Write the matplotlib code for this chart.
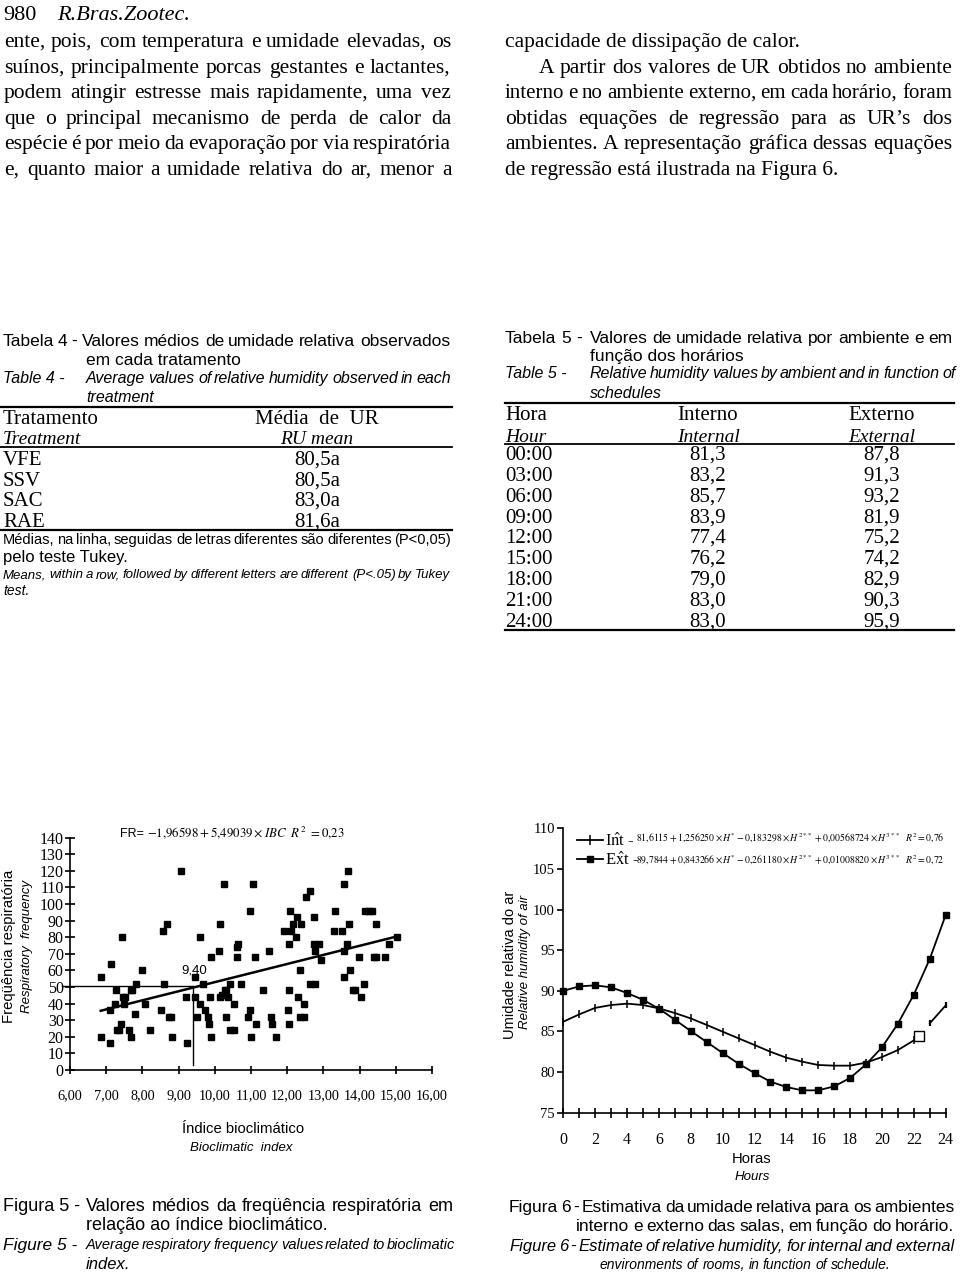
import numpy as np
import matplotlib
matplotlib.use("Agg")
import matplotlib.pyplot as plt
from matplotlib import font_manager
from matplotlib.lines import Line2D

W, H = 960, 1274

# ---- Figura 5: respiratory frequency vs bioclimatic index ----
ibc = [6.86, 6.86, 7.11, 7.11, 7.13, 7.28, 7.25, 7.31, 7.36, 7.40, 7.43, 7.46, 7.50, 7.52,
       7.62, 7.68, 7.68, 7.72, 7.80, 7.83, 8.00, 8.06, 8.22, 8.52, 8.58, 8.61, 8.69, 8.73,
       8.79, 8.81, 9.07, 9.20, 9.23, 9.44, 9.46, 9.50, 9.58, 9.59, 9.67, 9.72, 9.81, 9.83,
       9.87, 9.89, 9.90, 10.12, 10.13, 10.15, 10.19, 10.25, 10.27, 10.31, 10.36, 10.30, 10.41,
       10.42, 10.52, 10.54, 10.60, 10.63, 10.61, 10.73, 10.96, 10.91, 10.98, 11.00, 11.06,
       11.12, 11.14, 11.34, 11.49, 11.55, 11.58, 11.69, 11.90, 12.01, 12.04, 12.05, 12.07,
       12.06, 12.11, 12.16, 12.24, 12.27, 12.29, 12.34, 12.39, 12.35, 12.46, 12.47, 12.53,
       12.64, 12.62, 12.76, 12.73, 12.75, 12.78, 12.87, 12.93, 13.31, 13.28, 13.51, 13.56,
       13.56, 13.58, 13.65, 13.68, 13.71, 13.74, 13.82, 13.88, 13.98, 14.05, 14.11, 14.16,
       14.25, 14.34, 14.39, 14.45, 14.46, 14.69, 14.80, 15.03]
fr = [20, 56, 16, 36, 64, 48, 40, 24, 24, 28, 80, 44, 40, 44,
      24, 20, 48, 48, 34, 52, 60, 40, 24, 36, 84, 52, 88, 32,
      32, 20, 120, 44, 16, 56, 44, 32, 40, 80, 52, 36, 32, 28,
      44, 20, 68, 72, 88, 44, 45, 112, 48, 32, 44, 48, 52,
      24, 40, 24, 68, 76, 74, 52, 36, 32, 96, 20, 112,
      68, 28, 48, 72, 32, 28, 20, 84, 36, 28, 76, 96,
      48, 84, 88, 80, 92, 44, 60, 88, 32, 32, 40, 104,
      108, 52, 52, 92, 76, 72, 76, 66, 96, 84, 84, 112,
      56, 72, 76, 120, 88, 60, 48, 48, 68, 44, 52, 96,
      96, 96, 68, 68, 88, 68, 76, 80]
reg_ibc = [6.85, 15.05]
reg_fr = [35.7, 80.6]
mark_ibc = 9.40
mark_fr = 50.5
ibc_ticks = list(range(6, 17))
fr_ticks = list(range(0, 141, 10))

# ---- Figura 6: relative humidity by hour ----
hours = list(range(25))
ur_ext = [90.0, 90.55, 90.67, 90.43, 89.73, 88.9, 87.8, 86.45, 85.05, 83.7, 82.35, 81.03,
          79.88, 78.82, 78.16, 77.75, 77.75, 78.24, 79.27, 80.95, 83.04, 85.96, 89.53,
          93.92, 99.33]
hours_int = list(range(23))
ur_int = [86.2, 87.1, 87.9, 88.25, 88.42, 88.25, 87.84, 87.27, 86.6, 85.8, 84.97, 84.15,
          83.33, 82.5, 81.77, 81.28, 80.87, 80.79, 80.79, 81.16, 81.85, 82.71, 83.9]
hours_int_end = [23, 24]
ur_int_end = [86.0, 88.2]
open_h = [22.3]
open_ur = [84.4]
hour_ticks = list(range(0, 25, 2))
ur_ticks = list(range(75, 111, 5))

# ---- tables ----
tab4_trat = ["VFE", "SSV", "SAC", "RAE"]
tab4_ur = ["80,5a", "80,5a", "83,0a", "81,6a"]
tab5_hora = ["00:00", "03:00", "06:00", "09:00", "12:00", "15:00", "18:00", "21:00", "24:00"]
tab5_int = ["81,3", "83,2", "85,7", "83,9", "77,4", "76,2", "79,0", "83,0", "83,0"]
tab5_ext = ["87,8", "91,3", "93,2", "81,9", "75,2", "74,2", "82,9", "90,3", "95,9"]

avail = {f.name for f in font_manager.fontManager.ttflist}
SERIF = "Liberation Serif"
SANS = "Liberation Sans"
NARROW = "Liberation Sans Narrow" if "Liberation Sans Narrow" in avail else SANS

plt.rcParams["font.family"] = SERIF
plt.rcParams["mathtext.fontset"] = "stix"

fig = plt.figure(figsize=(W / 100, H / 100), dpi=100)
page = fig.add_axes([0, 0, 1, 1], zorder=0)
page.set_xlim(0, W)
page.set_ylim(H, 0)
page.axis("off")
renderer = fig.canvas.get_renderer()


def put(txt, x, y, size, family=SERIF, style="normal", ha="left", va="base", **kw):
    # y is the visual middle of the line; words share one baseline
    if va == "base":
        y = round(y + 0.34 * size * 100 / 72)
        va = "baseline"
    return page.text(x, y, txt, fontsize=size, family=family, style=style,
                     ha=ha, va=va, **kw)


def jline(txt, x0, x1, y, size, family=SERIF, style="normal"):
    # justified line: spread the words between x0 and x1
    words = txt.split()
    while True:
        ts = [put(w, 0, y, size, family, style) for w in words]
        ws = [t.get_window_extent(renderer).width for t in ts]
        mingap = size * 0.14 * 100 / 72
        if sum(ws) + mingap * (len(words) - 1) <= x1 - x0 or size < 6:
            break
        for t in ts:
            t.remove()
        size -= 0.5
    gap = (x1 - x0 - sum(ws)) / max(len(words) - 1, 1)
    x = x0
    for t, w in zip(ts, ws):
        t.set_x(round(x))
        x += w + gap


def fit(txt, x0, x1, y, size, family=SERIF, style="normal"):
    while True:
        t = put(txt, x0, y, size, family, style)
        if t.get_window_extent(renderer).width <= x1 - x0 or size < 5:
            return t
        t.remove()
        size -= 0.25


# header and body text
put("980", 3, 12, 16)
put("R.Bras.Zootec.", 57, 12, 16, style="italic")
left_body = ["ente, pois, com temperatura e umidade elevadas, os",
             "suínos, principalmente porcas gestantes e lactantes,",
             "podem atingir estresse mais rapidamente, uma vez",
             "que o principal mecanismo de perda de calor da",
             "espécie é por meio da evaporação por via respiratória",
             "e, quanto maior a umidade relativa do ar, menor a"]
for i, s in enumerate(left_body):
    jline(s, 4, 451, 40 + 25.5 * i, 15.5)
put("capacidade de dissipação de calor.", 505, 40, 15.5)
jline("A partir dos valores de UR obtidos no ambiente", 539, 952, 65.5, 15.5)
jline("interno e no ambiente externo, em cada horário, foram", 505, 952, 91, 15.5)
jline("obtidas equações de regressão para as UR’s dos", 505, 952, 116.5, 15.5)
jline("ambientes. A representação gráfica dessas equações", 505, 952, 142, 15.5)
put("de regressão está ilustrada na Figura 6.", 505, 167.5, 15.5)

# Tabela 4
jline("Tabela 4 -", 3, 77, 340, 12.5, SANS)
jline("Valores médios de umidade relativa observados", 82, 450, 340, 12.5, SANS)
put("em cada tratamento", 86, 359, 12.5, SANS)
put("Table 4 -", 3, 378, 11.5, SANS, "italic")
jline("Average values of relative humidity observed in each", 86, 451, 378, 11.5, SANS, "italic")
put("treatment", 86, 397, 11.5, SANS, "italic")
page.plot([0, 452], [407, 407], color="black", lw=1.6)
put("Tratamento", 3, 417, 15)
put("Média  de  UR", 317, 417, 15, ha="center")
put("Treatment", 3, 437, 14, style="italic")
put("RU mean", 317, 437, 14, style="italic", ha="center")
page.plot([0, 452], [447, 447], color="black", lw=1.3)
for i, (t, v) in enumerate(zip(tab4_trat, tab4_ur)):
    y = 458 + 20.7 * i
    put(t, 3, y, 15)
    put(v, 317, y, 15, ha="center")
page.plot([0, 452], [530, 530], color="black", lw=1.6)
jline("Médias, na linha, seguidas de letras diferentes são diferentes (P<0,05)", 3, 451, 539,
      12, NARROW)
put("pelo teste Tukey.", 3, 556, 12, NARROW)
jline("Means, within a row, followed by different letters are different (P<.05) by Tukey",
      3, 450, 574, 10, NARROW, "italic")
put("test.", 3, 590, 10, NARROW, "italic")

# Tabela 5
jline("Tabela 5 -", 505, 582, 337, 12.5, SANS)
jline("Valores de umidade relativa por ambiente e em", 590, 952, 337, 12.5, SANS)
put("função dos horários", 590, 355, 12.5, SANS)
put("Table 5 -", 505, 373, 11.5, SANS, "italic")
jline("Relative humidity values by ambient and in function of", 590, 955, 373, 11.5, SANS,
      "italic")
put("schedules", 590, 393, 11.5, SANS, "italic")
page.plot([505, 954], [403, 403], color="black", lw=1.6)
put("Hora", 505, 413, 15)
put("Interno", 708, 413, 15, ha="center")
put("Externo", 882, 413, 15, ha="center")
put("Hour", 505, 435, 14, style="italic")
put("Internal", 708, 435, 14, style="italic", ha="center")
put("External", 882, 435, 14, style="italic", ha="center")
page.plot([505, 954], [444, 444], color="black", lw=1.3)
for i, (h, a, b) in enumerate(zip(tab5_hora, tab5_int, tab5_ext)):
    y = 453 + 20.85 * i
    put(h, 505, y, 15)
    put(a, 708, y, 15, ha="center")
    put(b, 882, y, 15, ha="center")
page.plot([505, 954], [630, 630], color="black", lw=1.6)

# ---- Figura 5 chart ----
ax1 = fig.add_axes([70 / W, 1 - 1070 / H, 362 / W, 232.3 / H], zorder=1)
ax1.patch.set_visible(False)
ax1.plot(ibc, fr, "s", ms=4.6, color="black", clip_on=False)
ax1.plot(reg_ibc, reg_fr, color="black", lw=1.8)
ax1.plot([5.78, mark_ibc], [mark_fr, mark_fr], color="black", lw=1.0, clip_on=False)
ax1.plot([mark_ibc, mark_ibc], [mark_fr, 3], color="black", lw=1.0)
ax1.text(mark_ibc + 0.03, 60, "9,40", fontsize=9.5, family=NARROW, ha="center", va="center")
ax1.set_xlim(6, 16)
ax1.set_ylim(0, 140)
ax1.set_xticks(ibc_ticks)
ax1.set_xticklabels([f"{v},00" for v in ibc_ticks])
ax1.set_yticks(fr_ticks)
for s in ["top", "right"]:
    ax1.spines[s].set_visible(False)
for s in ["left", "bottom"]:
    ax1.spines[s].set_linewidth(1.2)
ax1.tick_params(axis="x", direction="inout", length=6, width=1.2, pad=11, labelsize=10.3)
ax1.tick_params(axis="y", direction="inout", length=7, width=1.2, pad=1, labelsize=11.5)

put("FR=", 120, 833, 9, NARROW)
fit(r"$-1{,}96598+5{,}49039\times IBC\ \ R^{2}\ =0{,}23$", 147, 348, 833, 12)
put("Freqüência respiratória", 9, 946, 10.7, SANS, rotation=90, ha="center", va="center")
put("Respiratory  frequency", 27, 946, 9.5, SANS, "italic", rotation=90, ha="center",
    va="center")
put("Índice bioclimático", 243, 1128, 10.7, SANS, ha="center")
put("Bioclimatic  index", 241, 1147, 9.5, SANS, "italic", ha="center")

# ---- Figura 6 chart ----
ax2 = fig.add_axes([563.3 / W, 1 - 1112.7 / H, 382.4 / W, 284.4 / H], zorder=1)
ax2.patch.set_visible(False)
ax2.plot(hours, ur_ext, "-s", color="black", lw=1.3, ms=4.8, clip_on=False)
ax2.plot(hours_int, ur_int, "-", marker="|", color="black", lw=1.3, ms=6, mew=1.1,
         clip_on=False)
ax2.plot(hours_int_end, ur_int_end, "-", marker="|", color="black", lw=1.3, ms=5, mew=1.6,
         clip_on=False)
ax2.plot(open_h, open_ur, "s", mfc="white", mec="black", mew=1.0, ms=6.5, clip_on=False)
ax2.set_xlim(0, 24)
ax2.set_ylim(75, 110)
ax2.set_xticks(hour_ticks)
ax2.set_xticks(hours, minor=True)
ax2.set_yticks(ur_ticks)
for s in ["top", "right"]:
    ax2.spines[s].set_visible(False)
for s in ["left", "bottom"]:
    ax2.spines[s].set_linewidth(1.2)
ax2.tick_params(axis="x", which="both", direction="inout", length=6.5, width=1.2, pad=11,
                labelsize=11.5)
ax2.tick_params(axis="y", direction="out", length=4.5, width=1.2, pad=1.5, labelsize=10.5)

handles = [Line2D([], [], color="black", lw=1.3, marker="|", ms=7, mew=1.1),
           Line2D([], [], color="black", lw=1.3, marker="s", ms=5)]
ax2.legend(handles, [r"I$\hat{\mathrm{n}}$t -", r"E$\hat{\mathrm{x}}$t -"], loc="center left",
           bbox_to_anchor=(577 / W, 1 - 851 / H), bbox_transform=fig.transFigure,
           frameon=False, prop={"family": SERIF, "size": 12}, handlelength=1.55,
           handletextpad=0.15, labelspacing=0.1, borderpad=0, borderaxespad=0)
fit(r"$81{,}6115+1{,}256250\times H^{*}-0{,}183298\times H^{2**}+0{,}00568724\times H^{3**}"
    r"\ \ R^{2}=0{,}76$", 636, 950, 839, 9.5)
fit(r"$89{,}7844+0{,}843266\times H^{*}-0{,}261180\times H^{2**}+0{,}01008820\times H^{3**}"
    r"\ \ R^{2}=0{,}72$", 636, 950, 861, 9.5)
put("Umidade relativa do ar", 510, 965, 10.5, SANS, rotation=90, ha="center", va="center")
put("Relative humidity of air", 525, 962, 9.5, SANS, "italic", rotation=90, ha="center",
    va="center")
put("Horas", 752, 1158, 10.7, SANS, ha="center")
put("Hours", 752, 1176, 9.5, SANS, "italic", ha="center")

# ---- captions ----
put("Figura 5 -", 3, 1205, 13, NARROW)
jline("Valores médios da freqüência respiratória em", 86, 453, 1205, 13, NARROW)
put("relação ao índice bioclimático.", 86, 1224, 13, NARROW)
put("Figure 5 -", 3, 1244, 12.5, NARROW, "italic")
jline("Average respiratory frequency values related to bioclimatic", 86, 455, 1244, 12,
      NARROW, "italic")
put("index.", 86, 1263, 12, NARROW, "italic")
jline("Figura 6 - Estimativa da umidade relativa para os ambientes", 509, 954, 1206, 13,
      NARROW)
jline("interno e externo das salas, em função do horário.", 576, 954, 1225, 13, NARROW)
jline("Figure 6 - Estimate of relative humidity, for internal and external", 509, 954, 1245,
      12.5, NARROW, "italic")
jline("environments of rooms, in function of schedule.", 600, 891, 1264, 12.5, NARROW,
      "italic")

fig.savefig("out.png", dpi=100)
